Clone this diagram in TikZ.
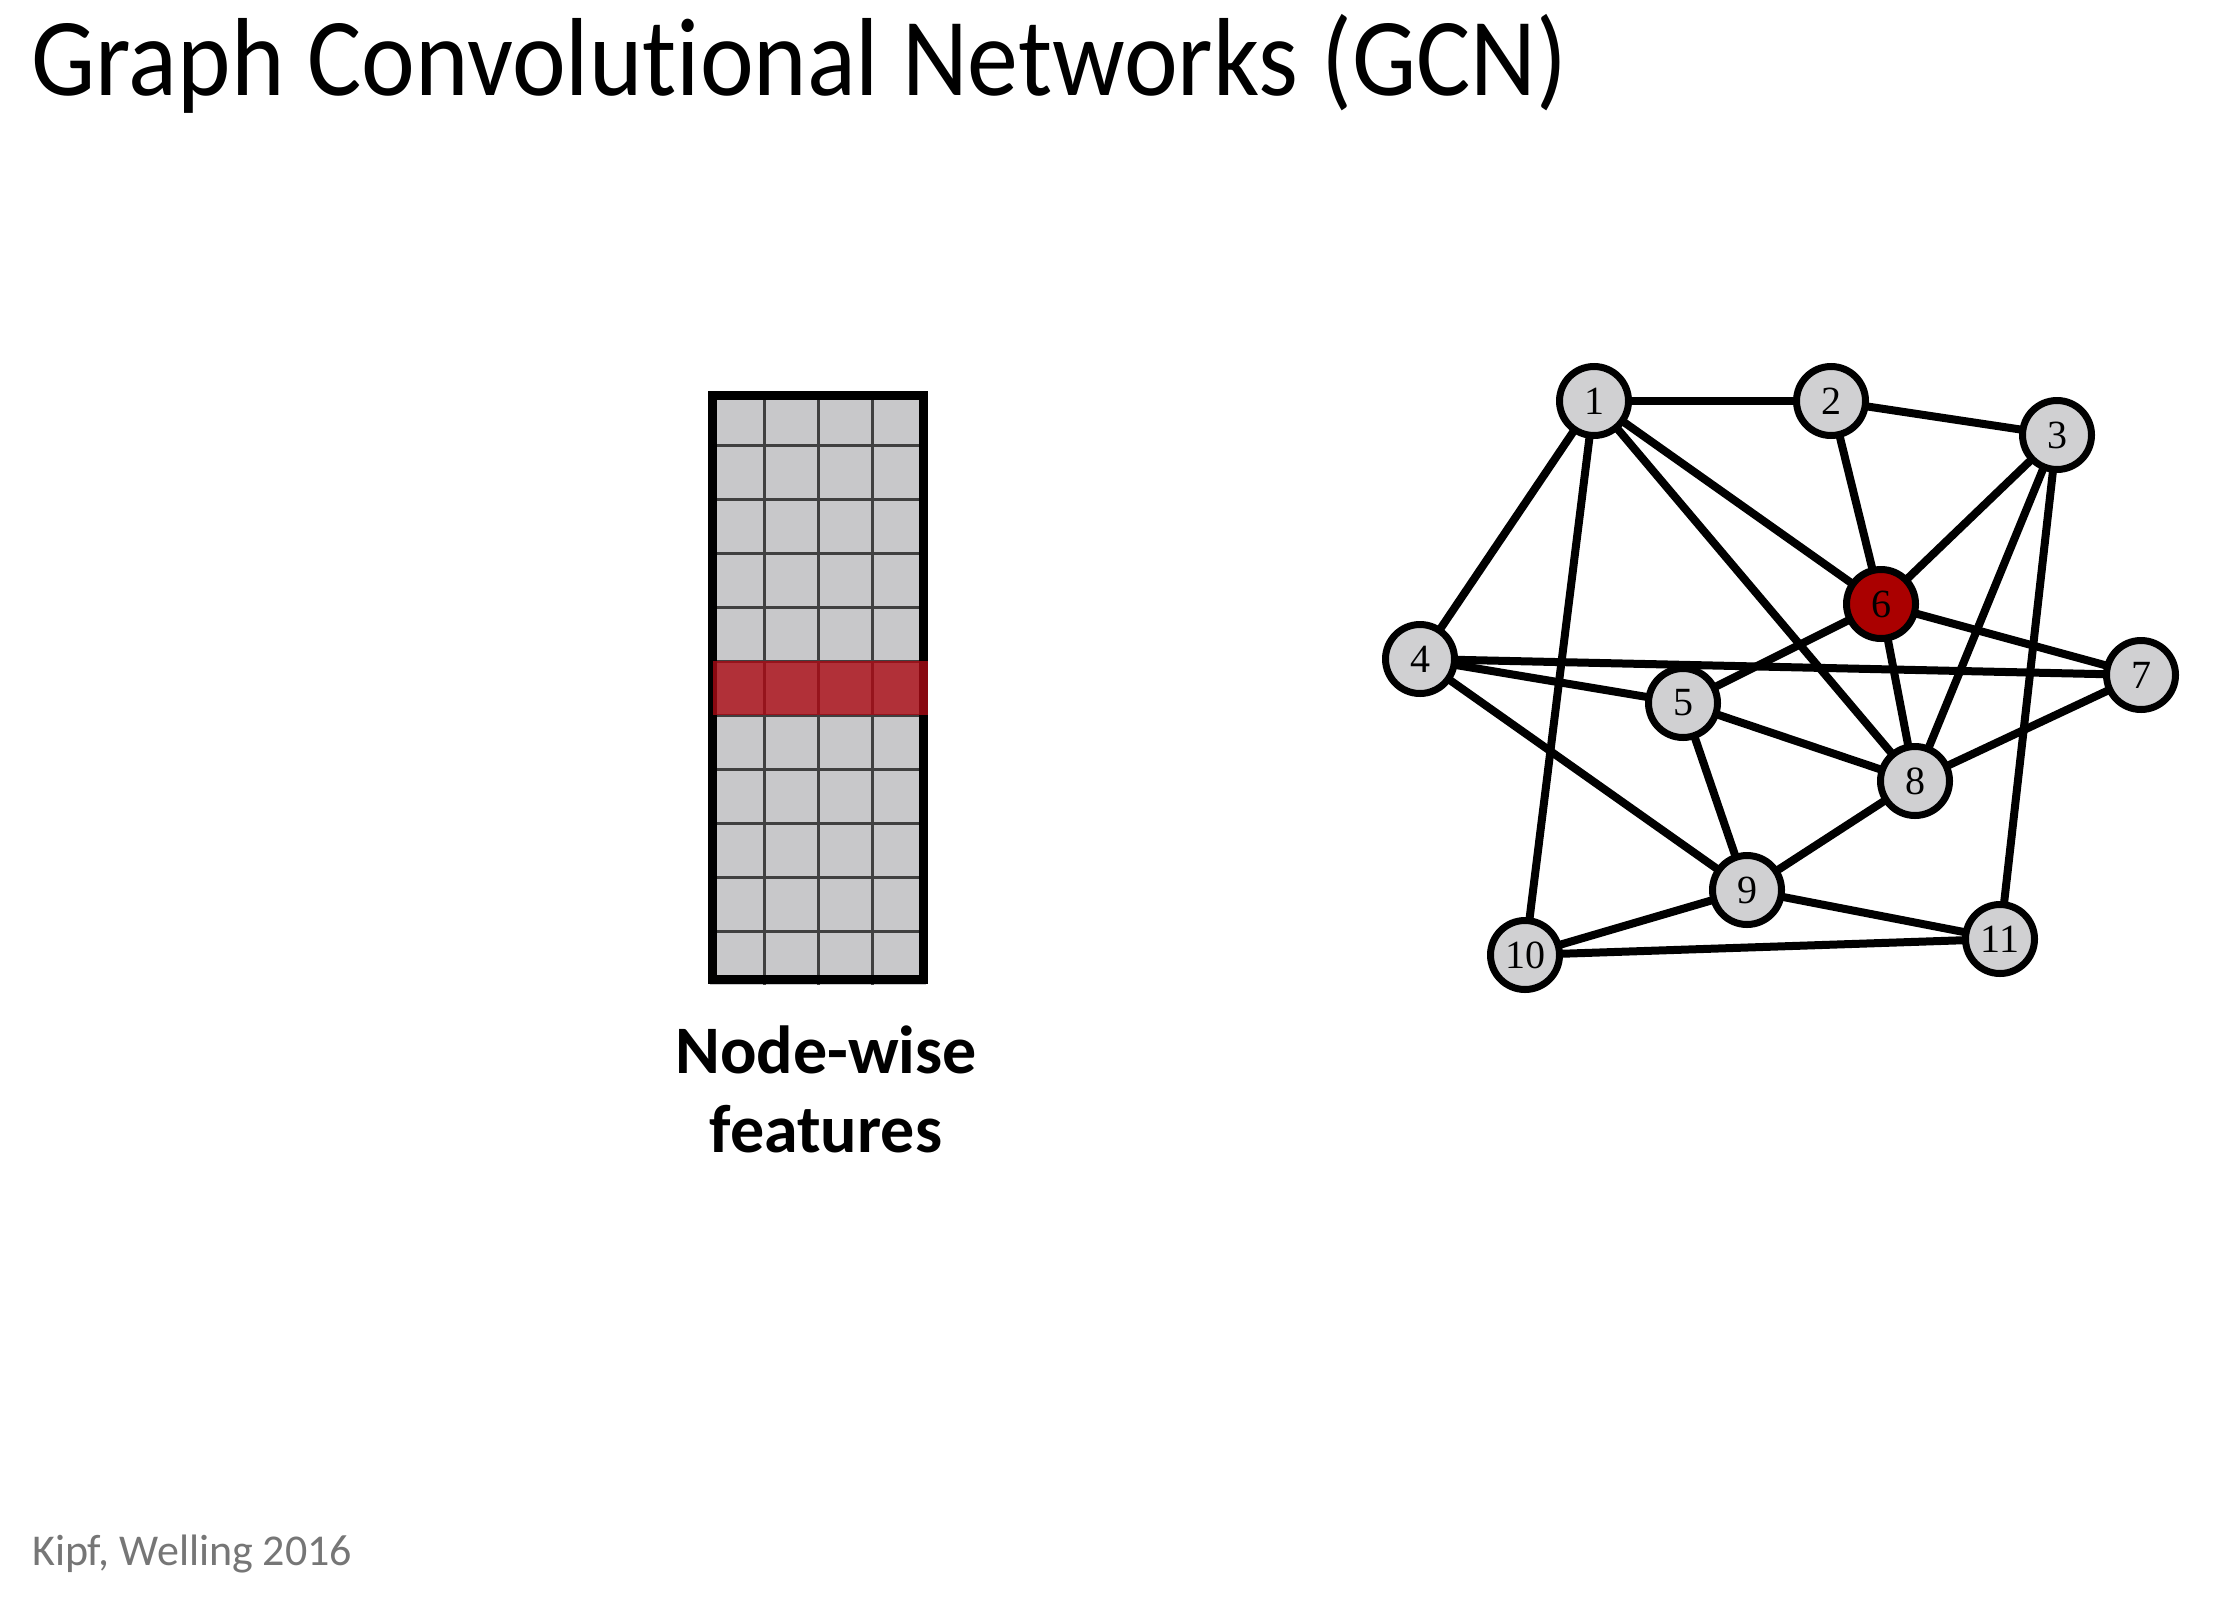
\documentclass[tikz,border=0pt]{standalone}
\usepackage{fontspec}
\setmainfont{Carlito}[Ligatures=NoCommon]
\newfontfamily\numfont{Liberation Serif}
\definecolor{cellgray}{RGB}{200,200,202}
\definecolor{gridline}{RGB}{64,64,64}
\definecolor{rowred}{RGB}{172,10,20}
\definecolor{nodegray}{RGB}{208,208,210}
\definecolor{nodered}{RGB}{170,0,0}
\definecolor{footgray}{RGB}{118,118,118}
\begin{document}
\begin{tikzpicture}[x=1pt,y=-1pt,
  gnode/.style={circle,draw=black,line width=7pt,fill=nodegray,minimum size=69pt,inner sep=0pt,font=\numfont\fontsize{40}{46}\selectfont},
  hot/.style={fill=nodered},
  edge/.style={line width=8pt,black},
  gridl/.style={line width=3pt,gridline}]
\useasboundingbox (0,0) rectangle (2214,1606);
\fill[white] (0,0) rectangle (2214,1606);
% title
\node[anchor=base west,inner sep=0pt,font=\fontsize{111}{133}\selectfont] (title) at (31,95) {\scalebox{0.917}[1]{Graph Convolutional Networks (GCN)}};
% footer
\node[anchor=base west,inner sep=0pt,text=footgray,font=\fontsize{44}{52}\selectfont] (foot) at (32,1565) {Kipf, Welling 2016};
% matrix
\fill[cellgray] (710,391) rectangle (926,985);
\foreach \i in {1,...,3} \draw[gridl] (710+\i*54,391) -- (710+\i*54,985);
\foreach \j in {1,...,10} \draw[gridl] (710,391+\j*54) -- (926,391+\j*54);
\draw[line width=9pt,black] (712.5,395.5) rectangle (923.5,979.5);
\fill[rowred,opacity=0.8] (713,661) rectangle (928,715);
\node[anchor=base,inner sep=0pt,font=\bfseries\fontsize{68}{80}\selectfont] (lab1) at (826,1073) {Node-wise};
\node[anchor=base,inner sep=0pt,font=\bfseries\fontsize{68}{80}\selectfont] (lab2) at (826,1152) {features};
% graph
\coordinate (p1) at (1594,401);
\coordinate (p2) at (1831,401);
\coordinate (p3) at (2057,435);
\coordinate (p4) at (1420,659);
\coordinate (p5) at (1683,703);
\coordinate (p6) at (1881,604);
\coordinate (p7) at (2141,675);
\coordinate (p8) at (1915,781);
\coordinate (p9) at (1747,890);
\coordinate (p10) at (1525,955);
\coordinate (p11) at (2000,939);
\foreach \a/\b in {1/2,2/3,1/4,1/10,1/6,1/8,2/6,3/6,3/8,3/11,4/7,4/5,4/9,6/5,6/7,6/8,5/8,5/9,7/8,8/9,9/10,9/11,10/11}
  \draw[edge] (p\a) -- (p\b);
\foreach \k in {1,2,3,4,5,7,8,9,10,11}
  \node[gnode] (n\k) at (p\k) {\k};
\node[gnode,hot] (n6) at (p6) {6};
\end{tikzpicture}
\end{document}
